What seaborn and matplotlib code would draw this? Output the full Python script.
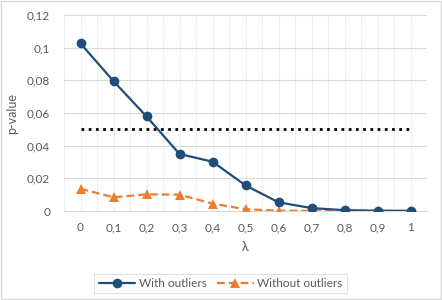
import numpy as np
import pandas as pd
import matplotlib.pyplot as plt
import seaborn as sns
from matplotlib.ticker import FixedLocator, FuncFormatter

# values
lam_labels = ['0', '0,1', '0,2', '0,3', '0,4', '0,5', '0,6', '0,7', '0,8', '0,9', '1']
with_outliers = [0.1026, 0.0795, 0.0579, 0.0349, 0.0302, 0.0157, 0.0053, 0.0018, 0.0005, 0.0002, 0.0001]
without_outliers = [0.0136, 0.0084, 0.0102, 0.0100, 0.0045, 0.0011, 0.0002, 0.0001, 0.0001, 0.0000, 0.0000]
threshold = [0.05] * len(lam_labels)

df = pd.DataFrame({
    'pos': np.arange(len(lam_labels)),
    'With outliers': with_outliers,
    'Without outliers': without_outliers,
    'threshold': threshold,
})

sns.set_style('white')
plt.rcParams['font.family'] = ['Lato', 'DejaVu Sans']
grey = '#595959'

fig = plt.figure(figsize=(4.42, 3.0), dpi=100)
ax = fig.add_axes([64 / 442, 1 - 211 / 300, (427 - 64) / 442, (211 - 15) / 300])

# figure border
fig.patches.append(plt.Rectangle((0.002, 0.003), 0.995, 0.993, transform=fig.transFigure,
                                 fill=False, edgecolor='#d9d9d9', linewidth=1.0))

sns.lineplot(data=df, x='pos', y='threshold', ax=ax, color='black', linestyle=(0, (1, 1.6)),
             linewidth=2.0, legend=False, zorder=2)
sns.lineplot(data=df, x='pos', y='With outliers', ax=ax, color='#1f4e79', marker='o',
             markersize=7, markeredgewidth=0, linewidth=1.6, label='With outliers', zorder=4)
sns.lineplot(data=df, x='pos', y='Without outliers', ax=ax, color='#ed7d31', marker='^',
             markersize=7, markeredgewidth=0, linewidth=1.6, linestyle=(0, (3.5, 1.8)),
             label='Without outliers', zorder=3)

ax.set_xlim(-0.5, len(lam_labels) - 0.5)
ax.set_ylim(0, 0.12)
ax.set_yticks(np.arange(0, 0.121, 0.02))
ax.yaxis.set_major_formatter(FuncFormatter(lambda v, p: '0' if v == 0 else f'{v:.2f}'.rstrip('0').replace('.', ',')))
ax.set_xticks(df['pos'])
ax.set_xticklabels(lam_labels)
ax.xaxis.set_minor_locator(FixedLocator(np.arange(-0.5, len(lam_labels), 1.0)))

ax.grid(axis='y', which='major', color='#d9d9d9', linewidth=0.8)
ax.grid(axis='x', which='both', color='#efefef', linewidth=0.8)
ax.set_axisbelow(True)
for s in ['top', 'right', 'left']:
    ax.spines[s].set_visible(False)
ax.spines['bottom'].set_color('#d9d9d9')
ax.tick_params(axis='both', which='both', length=0, labelsize=8.5, colors=grey, pad=8)
ax.tick_params(axis='y', pad=10)

ax.set_xlabel('λ', fontsize=9, color=grey, labelpad=6)
ax.set_ylabel('p-value', fontsize=9, color=grey, labelpad=6)

leg = ax.legend(loc='upper center', bbox_to_anchor=(0.431, -0.29), ncol=2, frameon=True,
                fancybox=False, fontsize=8.5, handlelength=3.1, columnspacing=0.9,
                borderpad=0.35, handletextpad=0.3)
leg.get_frame().set_edgecolor('#d9d9d9')
leg.get_frame().set_linewidth(0.8)
for t in leg.get_texts():
    t.set_color(grey)

fig.savefig('out.png', dpi=100)
